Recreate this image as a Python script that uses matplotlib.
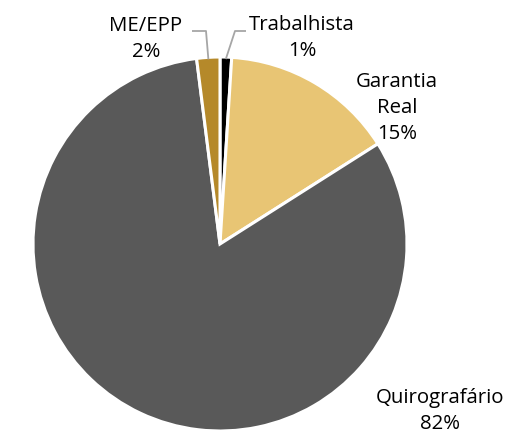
import numpy as np
import matplotlib
matplotlib.use("Agg")
import matplotlib.pyplot as plt

labels = ["Trabalhista", "Garantia\nReal", "Quirografário", "ME/EPP"]
values = [1, 15, 82, 2]
colors = ["#000000", "#E8C574", "#595959", "#B5892A"]

W, H = 511, 433
fig = plt.figure(figsize=(W / 100, H / 100), dpi=100)
ax = fig.add_axes([0, 0, 1, 1])

cx, cy, r = 220, H - 244, 187
wedges, _ = ax.pie(values, colors=colors, startangle=90, counterclock=False,
                   center=(cx, cy), radius=r,
                   wedgeprops=dict(edgecolor="white", linewidth=2.2))
ax.set_xlim(0, W)
ax.set_ylim(0, H)
ax.set_aspect("equal")
ax.axis("off")

plt.rcParams["font.family"] = ["Open Sans", "DejaVu Sans"]
fs = 14.7

# label centres (pixels from top-left)
text_pos = [(302, 38), (397, 108), (440, 411), (146, 39)]
leader = [True, False, False, True]

for w, lab, v, (tx, ty), ld in zip(wedges, labels, values, text_pos, leader):
    ax.text(tx, H - ty, f"{lab}\n{v}%", ha="center", va="center",
            fontsize=fs, linespacing=1.4, color="black")
    if ld:
        ang = np.deg2rad((w.theta1 + w.theta2) / 2)
        ex, ey = cx + (r - 2) * np.cos(ang), cy + (r - 2) * np.sin(ang)
        if tx > cx:
            hx, sx = 235, 246
        else:
            hx, sx = 206, 192
        ax.plot([ex, hx, sx], [ey, H - 31, H - 31], color="#A6A6A6",
                lw=1.3, solid_capstyle="butt")

fig.savefig("out.png", dpi=100)
